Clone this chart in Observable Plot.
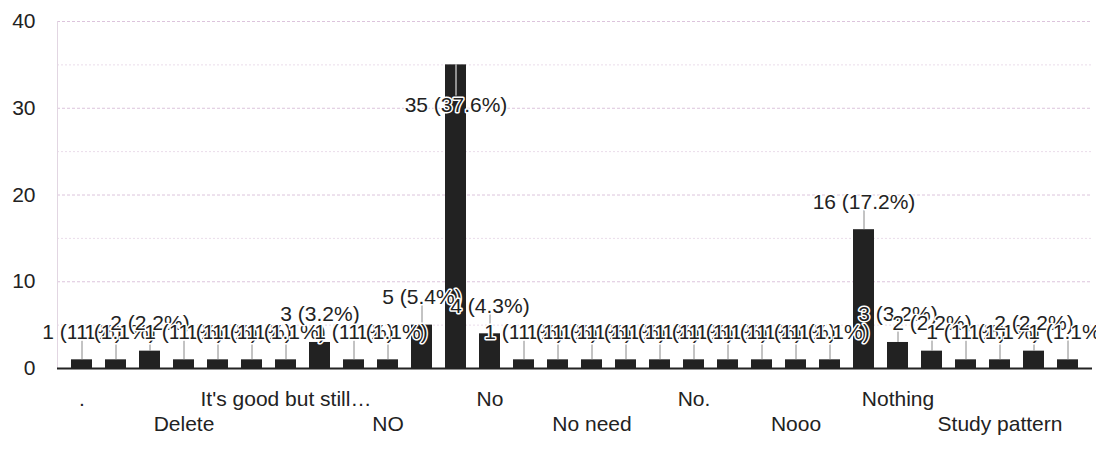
<!DOCTYPE html>
<html>
<head>
<meta charset="utf-8">
<script src="https://cdn.jsdelivr.net/npm/d3@7"></script>
<script src="https://cdn.jsdelivr.net/npm/@observablehq/plot@0.6"></script>
<style>
  html, body { margin: 0; padding: 0; background: #ffffff; }
  #chart svg { display: block; }
</style>
</head>
<body>
<div id="chart"></div>
<script>
// Responses (30 answers, alphabetical order); only every third one is labelled on the axis
const tickLabels = [
  ".", "", "", "Delete", "", "", "It's good but still…", "", "", "NO",
  "", "", "No", "", "", "No need", "", "", "No.", "",
  "", "Nooo", "", "", "Nothing", "", "", "Study pattern", "", ""
];
const counts = [
  1, 1, 2, 1, 1, 1, 1, 3, 1, 1,
  5, 35, 4, 1, 1, 1, 1, 1, 1, 1,
  1, 1, 1, 16, 3, 2, 1, 1, 2, 1
];
const yTicks = [0, 10, 20, 30, 40];
const yMinorTicks = [5, 15, 25, 35];
const rowATicks = [0, 6, 12, 18, 24];
const rowBTicks = [3, 9, 15, 21, 27];

const total = d3.sum(counts);
const data = counts.map((c, i) => ({
  i,
  c,
  label: `${c} (${(c / total * 100).toFixed(1)}%)`,
  inside: c > 30
}));

const font = "'Liberation Sans', Arial, sans-serif";
const ink = "#222";

const chart = Plot.plot({
  width: 1096,
  height: 452,
  marginLeft: 57,
  marginRight: 4,
  marginTop: 21,
  marginBottom: 84,
  style: { fontFamily: font, fontSize: "21px", color: ink, background: "#ffffff" },
  x: { type: "band", domain: d3.range(counts.length), paddingInner: 0.39, paddingOuter: 0.13, axis: null, label: null },
  y: { domain: [0, 40], axis: null, label: null },
  marks: [
    Plot.gridY(yMinorTicks, { stroke: "#eadcea", strokeOpacity: 1, strokeDasharray: "2,2" }),
    Plot.gridY(yTicks.filter(t => t > 0), { stroke: "#dcc4dc", strokeOpacity: 1, strokeDasharray: "3,2" }),
    Plot.frame({ anchor: "left", stroke: "#e2d6e2" }),
    Plot.axisY({ ticks: yTicks, tickSize: 0, tickPadding: 22, fontSize: 21, fill: ink, label: null }),
    Plot.barY(data, { x: "i", y: "c", fill: ink }),
    Plot.ruleY([0], { stroke: ink, strokeWidth: 2 }),
    Plot.ruleX(data, {
      x: "i",
      y1: "c",
      y2: d => d.inside ? d.c - 3.6 : d.c + 2.3,
      stroke: d => d.inside ? "#ffffff" : "#888",
      strokeWidth: 1
    }),
    Plot.text(data, {
      x: "i",
      y: d => d.inside ? d.c - 4.6 : d.c + 3.2,
      text: "label",
      fontSize: 21,
      fill: ink,
      stroke: "#ffffff",
      strokeWidth: 3
    }),
    Plot.axisX({ ticks: rowATicks, tickFormat: i => tickLabels[i], tickSize: 0, tickPadding: 23, fontSize: 21, fill: ink, label: null }),
    Plot.axisX({ ticks: rowBTicks, tickFormat: i => tickLabels[i], tickSize: 0, tickPadding: 48, fontSize: 21, fill: ink, label: null })
  ]
});

document.getElementById("chart").appendChild(chart);
</script>
</body>
</html>
